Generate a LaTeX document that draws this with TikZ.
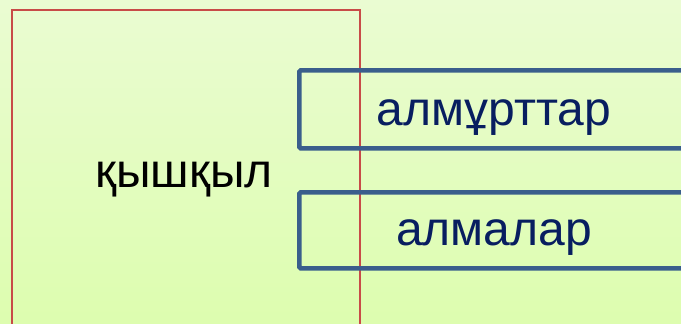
\documentclass[tikz,border=0pt]{standalone}
\usepackage{fontspec}
\setmainfont{Liberation Sans}
\definecolor{bgtop}{RGB}{234,252,210}
\definecolor{bgbot}{RGB}{221,253,175}
\definecolor{acidred}{RGB}{200,75,72}
\definecolor{blueline}{RGB}{58,94,140}
\definecolor{navytext}{RGB}{8,30,96}
\tikzset{
  redbox/.style={draw=acidred, line width=1.5pt, anchor=north west, inner sep=0pt},
  bluebox/.style={draw=blueline, line width=4.6pt, rounded corners=1.5pt, anchor=north west, inner sep=0pt},
  bluetext/.style={text=navytext, font=\fontsize{48}{54}\selectfont, anchor=base, inner sep=0pt},
  blacktext/.style={text=black, font=\fontsize{48}{54}\selectfont, anchor=base, inner sep=0pt},
}
\begin{document}
\begin{tikzpicture}[x=1pt,y=1pt]
\useasboundingbox (0,0) rectangle (681,-324);
\clip (0,0) rectangle (681,-324);
\shade[top color=bgtop, bottom color=bgbot] (0,0) rectangle (681,-324);
\node[redbox, minimum width=348pt, minimum height=321pt] (acid) at (11,-9) {};
\node[blacktext] (acidlabel) at (184,-187) {қышқыл};
% blue boxes
\node[bluebox, minimum width=400pt, minimum height=78pt] (pears) at (297,-68) {};
\node[bluebox, minimum width=400pt, minimum height=76pt] (apples) at (297,-190) {};
\node[bluetext] (pearslabel) at (494,-125) {алмұрттар};
\node[bluetext] (appleslabel) at (494,-245) {алмалар};
\end{tikzpicture}
\end{document}
